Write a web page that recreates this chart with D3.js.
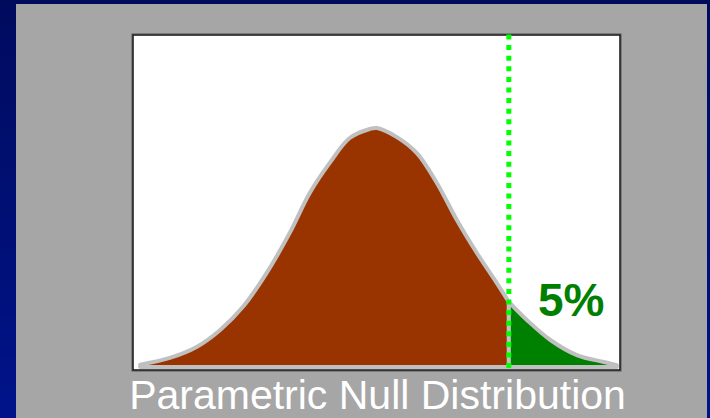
<!DOCTYPE html>
<html>
  <head>
    <script src="https://d3js.org/d3.v7.min.js"></script>
  </head>
  <style>
    body { margin: 0; }
    svg { display: block; }
  </style>
  <body>
    <svg></svg>
    <script>
      // curve: position in sd units and relative height
      const zValues = [-2.96, -2.59, -2.25, -1.96, -1.675, -1.38, -1.09, -0.84, -0.59, -0.34, -0.09, 0,
                       0.25, 0.5, 0.75, 1.0, 1.25, 1.5, 1.65, 1.875, 2.17, 2.5, 2.84, 3.0];
      const heights = [0.01, 0.038, 0.085, 0.155, 0.252, 0.393, 0.561, 0.728, 0.854, 0.958, 0.996, 1.0,
                       0.962, 0.895, 0.77, 0.615, 0.477, 0.351, 0.272, 0.197, 0.113, 0.05, 0.021, 0.008];
      const cutoff = 1.65;
      const tailLabel = "5%";
      const caption = "Parametric Null Distribution";

      const width = 710, height = 418;
      var svg = d3.select("svg").attr("width", width).attr("height", height);

      // slide background
      const defs = svg.append("defs");
      const grad = defs.append("linearGradient").attr("id", "bg").attr("x1", 0).attr("y1", 0).attr("x2", 0).attr("y2", 1);
      grad.append("stop").attr("offset", "0%").attr("stop-color", "#000b5e");
      grad.append("stop").attr("offset", "100%").attr("stop-color", "#00138a");
      svg.append("rect").attr("width", width).attr("height", height).attr("fill", "url(#bg)");
      svg.append("rect").attr("x", 16).attr("y", 4).attr("width", 691).attr("height", 414).attr("fill", "#a6a6a6");

      // plot box
      svg.append("rect").attr("x", 132).attr("y", 34).attr("width", 489).attr("height", 337)
        .attr("fill", "#fff").attr("stroke", "#555").attr("stroke-width", 1);
      svg.append("rect").attr("x", 133).attr("y", 35).attr("width", 487).attr("height", 335)
        .attr("fill", "none").attr("stroke", "#111").attr("stroke-width", 1.5);

      const x = d3.scaleLinear().domain([-3.05, 3.04]).range([133, 620]);
      const y = d3.scaleLinear().domain([0, 1]).range([367, 128]);

      const points = zValues.map((z, i) => ({ z: z, h: heights[i] }));
      const body = points.filter(d => d.z <= cutoff);
      const tail = points.filter(d => d.z >= cutoff);

      const area = d3.area()
        .x(d => x(d.z))
        .y0(y(0))
        .y1(d => y(d.h))
        .curve(d3.curveCatmullRom.alpha(0.5));

      svg.append("path").datum(body).attr("d", area)
        .attr("fill", "#993300").attr("stroke", "#c0c0c0").attr("stroke-width", 4).attr("stroke-linejoin", "round");
      svg.append("path").datum(tail).attr("d", area)
        .attr("fill", "#008000").attr("stroke", "#c0c0c0").attr("stroke-width", 4).attr("stroke-linejoin", "round");

      // threshold
      svg.append("line")
        .attr("x1", x(cutoff)).attr("x2", x(cutoff))
        .attr("y1", 34.5).attr("y2", 371)
        .attr("stroke", "#00ff00").attr("stroke-width", 5).attr("stroke-dasharray", "5,5.6");

      svg.append("text").attr("x", 538).attr("y", 316)
        .attr("font-family", "Liberation Sans, Arial, sans-serif").attr("font-weight", "bold")
        .attr("font-size", 46).attr("fill", "#008000").text(tailLabel);

      svg.append("text").attr("x", 377.5).attr("y", 409).attr("text-anchor", "middle")
        .attr("font-family", "Liberation Sans, Arial, sans-serif")
        .attr("font-size", 41).attr("fill", "#fff").text(caption);
    </script>
  </body>
</html>
